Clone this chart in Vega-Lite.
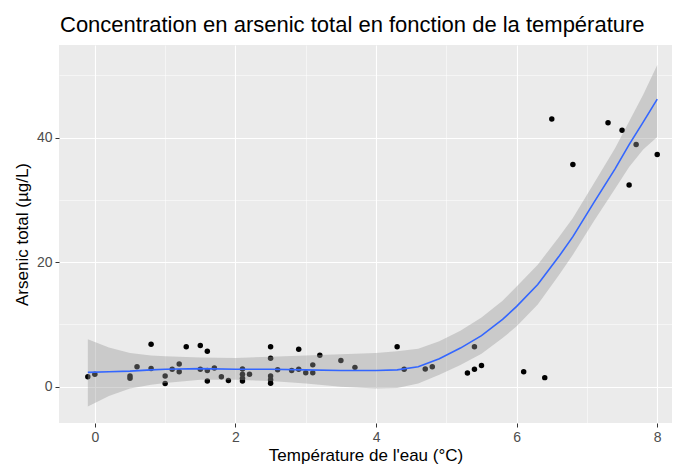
{
  "$schema": "https://vega.github.io/schema/vega-lite/v6.json",
  "width": 613,
  "height": 378,
  "autosize": "none",
  "padding": {"left": 59, "top": 45, "right": 1, "bottom": 48},
  "background": "white",
  "config": {
    "font": "Liberation Sans",
    "view": {"fill": "#EBEBEB", "stroke": null},
    "axis": {
      "domain": false,
      "gridColor": "white",
      "tickColor": "#333333",
      "tickSize": 4,
      "labelColor": "#4D4D4D",
      "labelFontSize": 14,
      "labelPadding": 3,
      "titleFontSize": 17,
      "titleFontWeight": "normal",
      "titleColor": "black"
    }
  },
  "title": {
    "text": "Concentration en arsenic total en fonction de la température",
    "anchor": "start",
    "frame": "group",
    "fontSize": 22,
    "fontWeight": "normal",
    "color": "black",
    "offset": 8,
    "dx": 1
  },
  "datasets": {
    "pts": [
      {"t": -0.1, "as": 1.6}, {"t": 0.0, "as": 2.0},
      {"t": 0.5, "as": 1.7}, {"t": 0.5, "as": 1.35}, {"t": 0.6, "as": 3.2},
      {"t": 0.8, "as": 6.8}, {"t": 0.8, "as": 2.9},
      {"t": 1.0, "as": 1.7}, {"t": 1.0, "as": 0.5}, {"t": 1.1, "as": 2.8},
      {"t": 1.2, "as": 3.65}, {"t": 1.2, "as": 2.4}, {"t": 1.3, "as": 6.4},
      {"t": 1.5, "as": 6.6}, {"t": 1.5, "as": 2.8},
      {"t": 1.6, "as": 5.7}, {"t": 1.6, "as": 2.6}, {"t": 1.6, "as": 0.9},
      {"t": 1.7, "as": 3.0}, {"t": 1.8, "as": 1.6}, {"t": 1.9, "as": 1.0},
      {"t": 2.1, "as": 2.85}, {"t": 2.1, "as": 2.0}, {"t": 2.1, "as": 1.35}, {"t": 2.1, "as": 0.9},
      {"t": 2.2, "as": 2.0},
      {"t": 2.5, "as": 6.4}, {"t": 2.5, "as": 4.55}, {"t": 2.5, "as": 1.7}, {"t": 2.5, "as": 1.1}, {"t": 2.5, "as": 0.55},
      {"t": 2.6, "as": 2.7}, {"t": 2.8, "as": 2.6},
      {"t": 2.9, "as": 6.0}, {"t": 2.9, "as": 2.8},
      {"t": 3.0, "as": 2.25}, {"t": 3.1, "as": 3.5}, {"t": 3.1, "as": 2.25},
      {"t": 3.2, "as": 5.05}, {"t": 3.5, "as": 4.2}, {"t": 3.7, "as": 3.1},
      {"t": 4.3, "as": 6.4}, {"t": 4.4, "as": 2.8},
      {"t": 4.7, "as": 2.85}, {"t": 4.8, "as": 3.2},
      {"t": 5.3, "as": 2.2}, {"t": 5.4, "as": 2.8}, {"t": 5.4, "as": 6.4}, {"t": 5.5, "as": 3.4},
      {"t": 6.1, "as": 2.4}, {"t": 6.4, "as": 1.45},
      {"t": 6.5, "as": 43.0}, {"t": 6.8, "as": 35.7},
      {"t": 7.3, "as": 42.4}, {"t": 7.5, "as": 41.2}, {"t": 7.6, "as": 32.4},
      {"t": 7.7, "as": 38.9}, {"t": 8.0, "as": 37.3}
    ],
    "fit": [
      {"t": -0.1, "fit": 2.3, "lo": -3.2, "hi": 7.6},
      {"t": 0.2, "fit": 2.4, "lo": -1.5, "hi": 6.3},
      {"t": 0.5, "fit": 2.5, "lo": -0.3, "hi": 5.4},
      {"t": 0.8, "fit": 2.7, "lo": 0.3, "hi": 5.0},
      {"t": 1.0, "fit": 2.8, "lo": 0.6, "hi": 4.9},
      {"t": 1.5, "fit": 2.9, "lo": 1.1, "hi": 4.7},
      {"t": 2.0, "fit": 2.8, "lo": 1.1, "hi": 4.6},
      {"t": 2.5, "fit": 2.8, "lo": 0.9, "hi": 4.8},
      {"t": 3.0, "fit": 2.7, "lo": 0.5, "hi": 5.0},
      {"t": 3.5, "fit": 2.6, "lo": 0.0, "hi": 5.2},
      {"t": 4.0, "fit": 2.6, "lo": -0.3, "hi": 5.4},
      {"t": 4.3, "fit": 2.7, "lo": -0.2, "hi": 5.7},
      {"t": 4.6, "fit": 3.2, "lo": 0.5, "hi": 6.1},
      {"t": 4.9, "fit": 4.5, "lo": 1.9, "hi": 7.3},
      {"t": 5.2, "fit": 6.2, "lo": 3.5, "hi": 9.0},
      {"t": 5.5, "fit": 8.2, "lo": 5.3, "hi": 11.1},
      {"t": 5.8, "fit": 10.8, "lo": 7.8, "hi": 13.8},
      {"t": 6.0, "fit": 12.9, "lo": 9.7, "hi": 16.1},
      {"t": 6.3, "fit": 16.4, "lo": 13.2, "hi": 19.6},
      {"t": 6.6, "fit": 20.9, "lo": 17.9, "hi": 24.0},
      {"t": 6.8, "fit": 24.1, "lo": 21.2, "hi": 27.1},
      {"t": 7.1, "fit": 29.6, "lo": 26.6, "hi": 32.7},
      {"t": 7.4, "fit": 35.0, "lo": 31.8, "hi": 38.3},
      {"t": 7.6, "fit": 38.9, "lo": 35.3, "hi": 42.6},
      {"t": 7.8, "fit": 42.5, "lo": 38.1, "hi": 46.9},
      {"t": 8.0, "fit": 46.2, "lo": 40.1, "hi": 51.7}
    ]
  },
  "encoding": {
    "x": {
      "field": "t",
      "type": "quantitative",
      "scale": {"domain": [-0.51, 8.21], "nice": false, "zero": false},
      "axis": {
        "title": "Température de l'eau (°C)",
        "values": [0, 1, 2, 3, 4, 5, 6, 7, 8],
        "labelExpr": "datum.value % 2 === 0 ? datum.label : ''",
        "gridWidth": {"condition": {"test": "datum.value % 2 === 0", "value": 1.1}, "value": 0.5},
        "tickOpacity": {"condition": {"test": "datum.value % 2 === 0", "value": 1}, "value": 0},
        "titlePadding": 3
      }
    }
  },
  "layer": [
    {
      "data": {"name": "pts"},
      "mark": {"type": "point", "filled": true, "size": 30, "color": "black", "opacity": 1},
      "encoding": {
        "y": {
          "field": "as",
          "type": "quantitative",
          "scale": {"domain": [-5.84, 54.9], "nice": false, "zero": false},
          "axis": {
            "title": "Arsenic total (µg/L)",
            "values": [0, 10, 20, 30, 40, 50],
            "labelExpr": "datum.value % 20 === 0 ? datum.label : ''",
            "gridWidth": {"condition": {"test": "datum.value % 20 === 0", "value": 1.1}, "value": 0.5},
            "tickOpacity": {"condition": {"test": "datum.value % 20 === 0", "value": 1}, "value": 0},
            "titlePadding": 5
          }
        }
      }
    },
    {
      "data": {"name": "fit"},
      "mark": {"type": "area", "color": "#999999", "opacity": 0.4},
      "encoding": {
        "y": {"field": "lo", "type": "quantitative"},
        "y2": {"field": "hi"}
      }
    },
    {
      "data": {"name": "fit"},
      "mark": {"type": "line", "color": "#3366FF", "strokeWidth": 1.6},
      "encoding": {
        "y": {"field": "fit", "type": "quantitative"}
      }
    }
  ]
}
